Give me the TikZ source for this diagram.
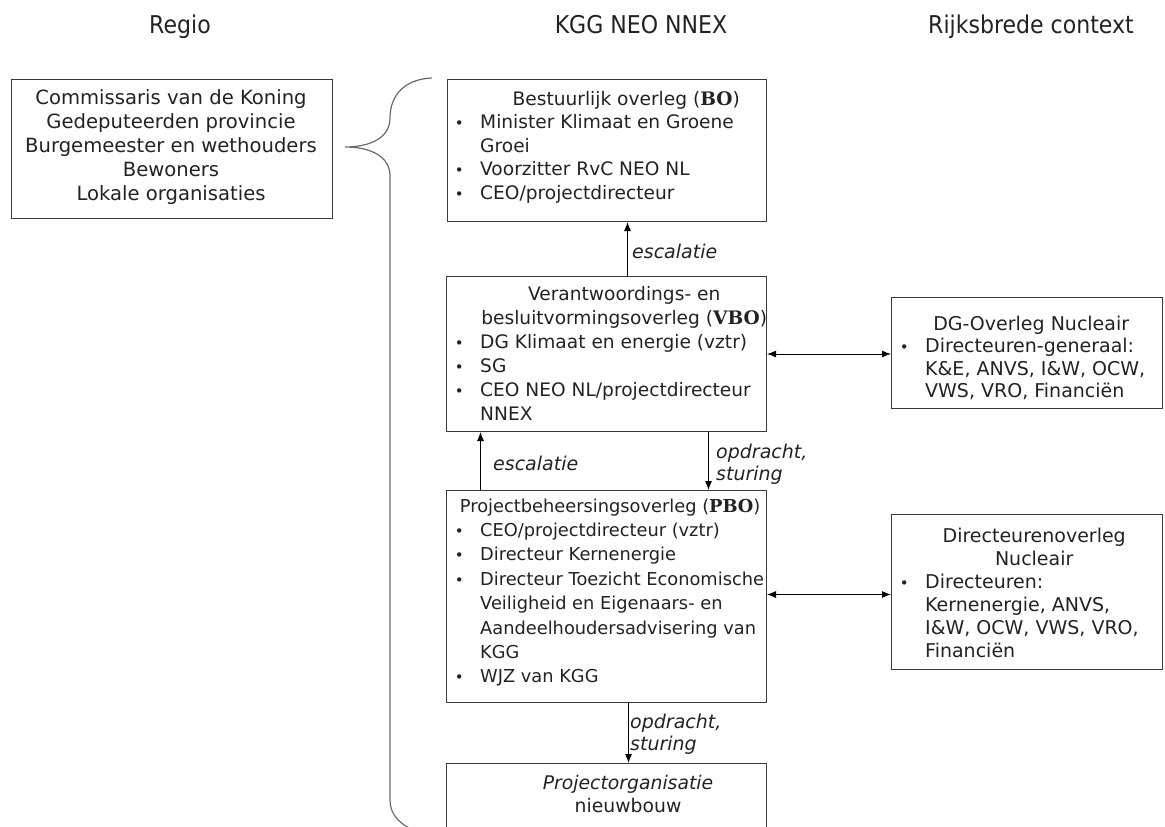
\documentclass[tikz,border=0pt]{standalone}
\usepackage{fontspec}
\setmainfont{DejaVu Sans}
\newfontfamily\hdrfont[FakeStretch=0.9]{DejaVu Sans}
\newfontfamily\serb{DejaVu Serif}
\usetikzlibrary{arrows.meta}
\definecolor{ink}{HTML}{222222}
\definecolor{edge}{HTML}{3A3A3A}
\definecolor{bracec}{HTML}{6A6A6A}
\newcommand\bulc{\makebox[0pt][c]{\fontsize{15}{15}\selectfont •}}
\newlength\bw \setlength\bw{21pt}
\newcommand\itm[1]{\makebox[\bw][l]{\bulc}#1}
\newcommand\cnt[1]{\hspace*{\bw}#1}
\newcommand\bb[1]{{\serb\bfseries #1}}
\tikzset{
 boxn/.style={draw=edge, line width=1pt, inner sep=0pt, anchor=north west},
 txt/.style={inner sep=0pt, anchor=north west, align=left, text=ink},
 hdr/.style={inner sep=0pt, anchor=base, text=ink, font=\hdrfont\fontsize{24.5}{28}\selectfont},
 lbl/.style={inner sep=0pt, align=left, text=ink, font=\itshape\fontsize{19}{22}\selectfont},
 arr/.style={draw=black, line width=0.9pt, -{Latex[length=9pt,width=7pt]}},
 darr/.style={draw=black, line width=0.9pt, {Latex[length=9pt,width=7pt]}-{Latex[length=9pt,width=7pt]}},
 bracel/.style={draw=bracec, line width=1.2pt},
}
\begin{document}
\begin{tikzpicture}[x=1pt,y=-1pt]
\useasboundingbox (0,0) rectangle (1165,827);
\clip (0,0) rectangle (1165,827);
% headers
\node[hdr] (hreg) at (180,33) {Regio};
\node[hdr] (hkgg) at (641,33) {KGG NEO NNEX};
\node[hdr] (hrijk) at (1031,33) {Rijksbrede context};
% boxes
\node[boxn, minimum width=321pt, minimum height=139pt] (reg) at (11,79) {};
\node[boxn, minimum width=319pt, minimum height=142pt] (bo) at (447,79) {};
\node[boxn, minimum width=320pt, minimum height=155pt] (vbo) at (446,276) {};
\node[boxn, minimum width=320pt, minimum height=212pt] (pbo) at (446,490) {};
\node[boxn, minimum width=320pt, minimum height=110pt] (proj) at (446,763) {};
\node[boxn, minimum width=271pt, minimum height=111pt] (dg) at (891,297) {};
\node[boxn, minimum width=271pt, minimum height=155pt] (dir) at (891,514) {};
% texts
\node[txt, anchor=north, align=center, font=\fontsize{19.6}{24}\selectfont] (regt) at (171,87.2)
 {\strut Commissaris van de Koning\\Gedeputeerden provincie\\Burgemeester en wethouders\\Bewoners\\Lokale organisaties};
\node[txt, font=\fontsize{18.6}{23.5}\selectfont] (bot) at (459,88.55)
 {\makebox[334pt][c]{\strut Bestuurlijk overleg (\bb{BO})}\\
  \itm{Minister Klimaat en Groene}\\
  \cnt{Groei}\\
  \itm{Voorzitter RvC NEO NL}\\
  \itm{CEO/projectdirecteur}};
\node[txt, font=\fontsize{18.6}{24}\selectfont] (vbot) at (459,283.2)
 {\makebox[330pt][c]{\strut Verantwoordings- en}\\
  \makebox[330pt][c]{besluitvormingsoverleg (\bb{VBO})}\\
  \itm{DG Klimaat en energie (vztr)}\\
  \itm{SG}\\
  \itm{CEO NEO NL/projectdirecteur}\\
  \cnt{NNEX}};
\node[txt, font=\fontsize{17.8}{24.4}\selectfont] (pbot) at (459,494.9)
 {\makebox[302pt][c]{\strut Projectbeheersingsoverleg (\bb{PBO})}\\
  \itm{CEO/projectdirecteur (vztr)}\\
  \itm{Directeur Kernenergie}\\
  \itm{Directeur Toezicht Economische}\\
  \cnt{Veiligheid en Eigenaars- en}\\
  \cnt{Aandeelhoudersadvisering van}\\
  \cnt{KGG}\\
  \itm{WJZ van KGG}};
\node[txt, anchor=north, align=center, font=\fontsize{18.8}{23}\selectfont] (projt) at (628,772.9)
 {\strut\textit{Projectorganisatie}\\nieuwbouw};
\node[txt, font=\fontsize{19}{22.5}\selectfont] (dgt) at (904,314.25)
 {\makebox[254pt][c]{\strut DG-Overleg Nucleair}\\
  \itm{Directeuren-generaal:}\\
  \cnt{K\&E, ANVS, I\&W, OCW,}\\
  \cnt{VWS, VRO, Financiën}};
\node[txt, font=\fontsize{19}{23}\selectfont] (dirt) at (904,525.9)
 {\makebox[260pt][c]{\strut Directeurenoverleg}\\
  \makebox[260pt][c]{Nucleair}\\
  \itm{Directeuren:}\\
  \cnt{Kernenergie, ANVS,}\\
  \cnt{I\&W, OCW, VWS, VRO,}\\
  \cnt{Financiën}};
% brace
\draw[bracel] (432,78) .. controls (405,79) and (390,95) .. (390,118)
  .. controls (390,138) and (370,147) .. (345,147)
  .. controls (370,147) and (390,156) .. (390,176)
  -- (390,800) .. controls (390,815) and (400,825) .. (418,832);
% connectors
\draw[arr] ([xshift=21pt]vbo.north) -- ([xshift=21pt]vbo.north |- bo.south);
\draw[arr] ([xshift=-126pt]pbo.north) -- ([xshift=-126pt]pbo.north |- vbo.south);
\draw[arr] ([xshift=102pt]vbo.south) -- ([xshift=102pt]vbo.south |- pbo.north);
\draw[arr] ([xshift=22pt]pbo.south) -- ([xshift=22pt]pbo.south |- proj.north);
\draw[darr] (vbo.east) -- (vbo.east -| dg.west);
\draw[darr] ([yshift=2pt]pbo.east) -- ([yshift=2pt]pbo.east -| dir.west);
% labels
\node[lbl, anchor=base west] (l1) at (632,258) {escalatie};
\node[lbl, anchor=base west] (l2) at (493,470) {escalatie};
\node[lbl, anchor=north west] (l3) at (716,442.6) {\strut opdracht,\\sturing};
\node[lbl, anchor=north west] (l4) at (630,712.6) {\strut opdracht,\\sturing};
\end{tikzpicture}
\end{document}
